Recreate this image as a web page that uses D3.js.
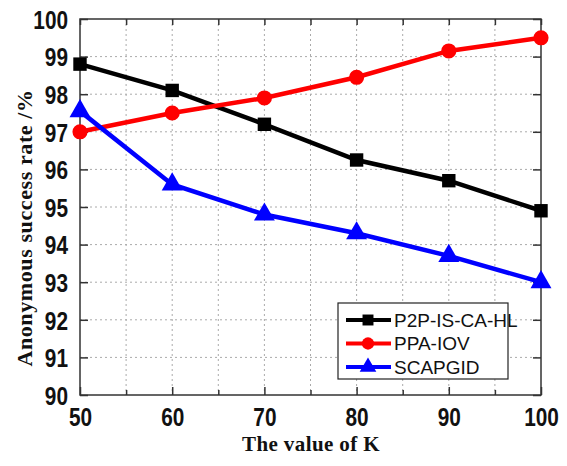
<!DOCTYPE html>
<html><head><meta charset="utf-8">
<script src="https://cdn.jsdelivr.net/npm/d3@7"></script>
<style>body{margin:0;background:#fff}</style>
</head><body><svg id="c" width="567" height="466"></svg>
<script>
const kValues = [50, 60, 70, 80, 90, 100];
const p2p = [98.8, 98.1, 97.2, 96.25, 95.7, 94.9];
const ppa = [97.0, 97.5, 97.9, 98.45, 99.15, 99.5];
const scap = [97.55, 95.6, 94.8, 94.3, 93.7, 93.0];
const seriesNames = ["P2P-IS-CA-HL", "PPA-IOV", "SCAPGID"];
const xTicks = [50, 60, 70, 80, 90, 100];
const yTicks = [90, 91, 92, 93, 94, 95, 96, 97, 98, 99, 100];

const svg = d3.select("#c");
const L = 80, R = 541, T = 19, B = 395;
const x = d3.scaleLinear().domain([50, 100]).range([L, R]);
const y = d3.scaleLinear().domain([90, 100]).range([B, T]);

// grid
const g = svg.append("g");
g.selectAll(".gx").data(d3.range(55, 100, 5)).join("line")
  .attr("x1", d => x(d)).attr("x2", d => x(d)).attr("y1", T).attr("y2", B)
  .attr("stroke", "#aaa").attr("stroke-width", 1).attr("stroke-dasharray", "2,3");
g.selectAll(".gy").data(yTicks.slice(1, -1)).join("line")
  .attr("y1", d => y(d)).attr("y2", d => y(d)).attr("x1", L).attr("x2", R)
  .attr("stroke", "#aaa").attr("stroke-width", 1).attr("stroke-dasharray", "2,3");

// frame
svg.append("rect").attr("x", L).attr("y", T).attr("width", R - L).attr("height", B - T)
  .attr("fill", "none").attr("stroke", "#333").attr("stroke-width", 1.5);

// axes
const fontTick = "'Liberation Sans', Arial, sans-serif";
const sx = 0.8;
const xAxis = svg.append("g").attr("transform", `translate(0,${B})`)
  .call(d3.axisBottom(x).tickValues(xTicks).tickSize(-8).tickPadding(13).tickFormat(d3.format("d")));
const xMinor = svg.append("g").attr("transform", `translate(0,${B})`)
  .call(d3.axisBottom(x).tickValues(d3.range(55, 100, 10)).tickSize(-5).tickFormat(""));
const xTop = svg.append("g").attr("transform", `translate(0,${T})`)
  .call(d3.axisTop(x).tickValues(d3.range(50, 101, 5)).tickSize(-6).tickFormat(""));
const yAxis = svg.append("g").attr("transform", `translate(${L},0)`)
  .call(d3.axisLeft(y).tickValues(yTicks).tickSize(-8).tickFormat(d3.format("d")));
const yRight = svg.append("g").attr("transform", `translate(${R},0)`)
  .call(d3.axisRight(y).tickValues(yTicks).tickSize(-8).tickFormat(""));
[xAxis, xMinor, xTop, yAxis, yRight].forEach(a => {
  a.select(".domain").remove();
  a.selectAll("line").attr("stroke", "#333").attr("stroke-width", 1.5);
  a.selectAll("text").attr("font-family", fontTick).attr("font-weight", "bold")
    .attr("font-size", 26).attr("fill", "#111");
});
xAxis.selectAll("text").attr("dy", "0.71em").attr("transform", `scale(${sx},1)`);
yAxis.selectAll("text").attr("x", -12 / sx).attr("dy", "0.36em").attr("transform", `scale(${sx},1)`);

// series
const data = [
  {name: seriesNames[0], vals: p2p, color: "#000000", sym: d3.symbolSquare, size: 180},
  {name: seriesNames[1], vals: ppa, color: "#ff0000", sym: d3.symbolCircle, size: 180},
  {name: seriesNames[2], vals: scap, color: "#0000ff", sym: d3.symbolTriangle, size: 190}
];
const line = d3.line().x((d, i) => x(kValues[i])).y(d => y(d));
data.forEach(s => {
  svg.append("path").datum(s.vals).attr("d", line).attr("fill", "none")
    .attr("stroke", s.color).attr("stroke-width", 4.5);
  svg.selectAll(null).data(s.vals).join("path")
    .attr("transform", (d, i) => `translate(${x(kValues[i])},${y(d)})`)
    .attr("d", d3.symbol().type(s.sym).size(s.size)).attr("fill", s.color);
});

// legend
const lg = svg.append("g");
lg.append("rect").attr("x", 338).attr("y", 303).attr("width", 170).attr("height", 76)
  .attr("fill", "#fff").attr("stroke", "#222").attr("stroke-width", 1.2);
data.forEach((s, i) => {
  const yy = 320 + i * 23.5;
  lg.append("line").attr("x1", 346).attr("x2", 391).attr("y1", yy).attr("y2", yy)
    .attr("stroke", s.color).attr("stroke-width", 4);
  lg.append("path").attr("transform", `translate(368,${yy})`)
    .attr("d", d3.symbol().type(s.sym).size(120)).attr("fill", s.color);
  lg.append("text").attr("x", 394).attr("y", yy).attr("dy", "0.36em")
    .attr("font-family", fontTick).attr("font-size", 19).attr("fill", "#111").text(s.name);
});

// titles
const fontTitle = "'Liberation Serif', 'Times New Roman', serif";
svg.append("text").attr("x", 311).attr("y", 451).attr("text-anchor", "middle")
  .attr("font-family", fontTitle).attr("font-weight", "bold").attr("font-size", 21)
  .attr("letter-spacing", 0.4)
  .attr("fill", "#111").text("The value of K");
svg.append("text").attr("transform", "translate(32,228) rotate(-90)").attr("text-anchor", "middle")
  .attr("font-family", fontTitle).attr("font-weight", "bold").attr("font-size", 22)
  .attr("letter-spacing", 0.6)
  .attr("fill", "#111").text("Anonymous success rate /%");
</script></body></html>
